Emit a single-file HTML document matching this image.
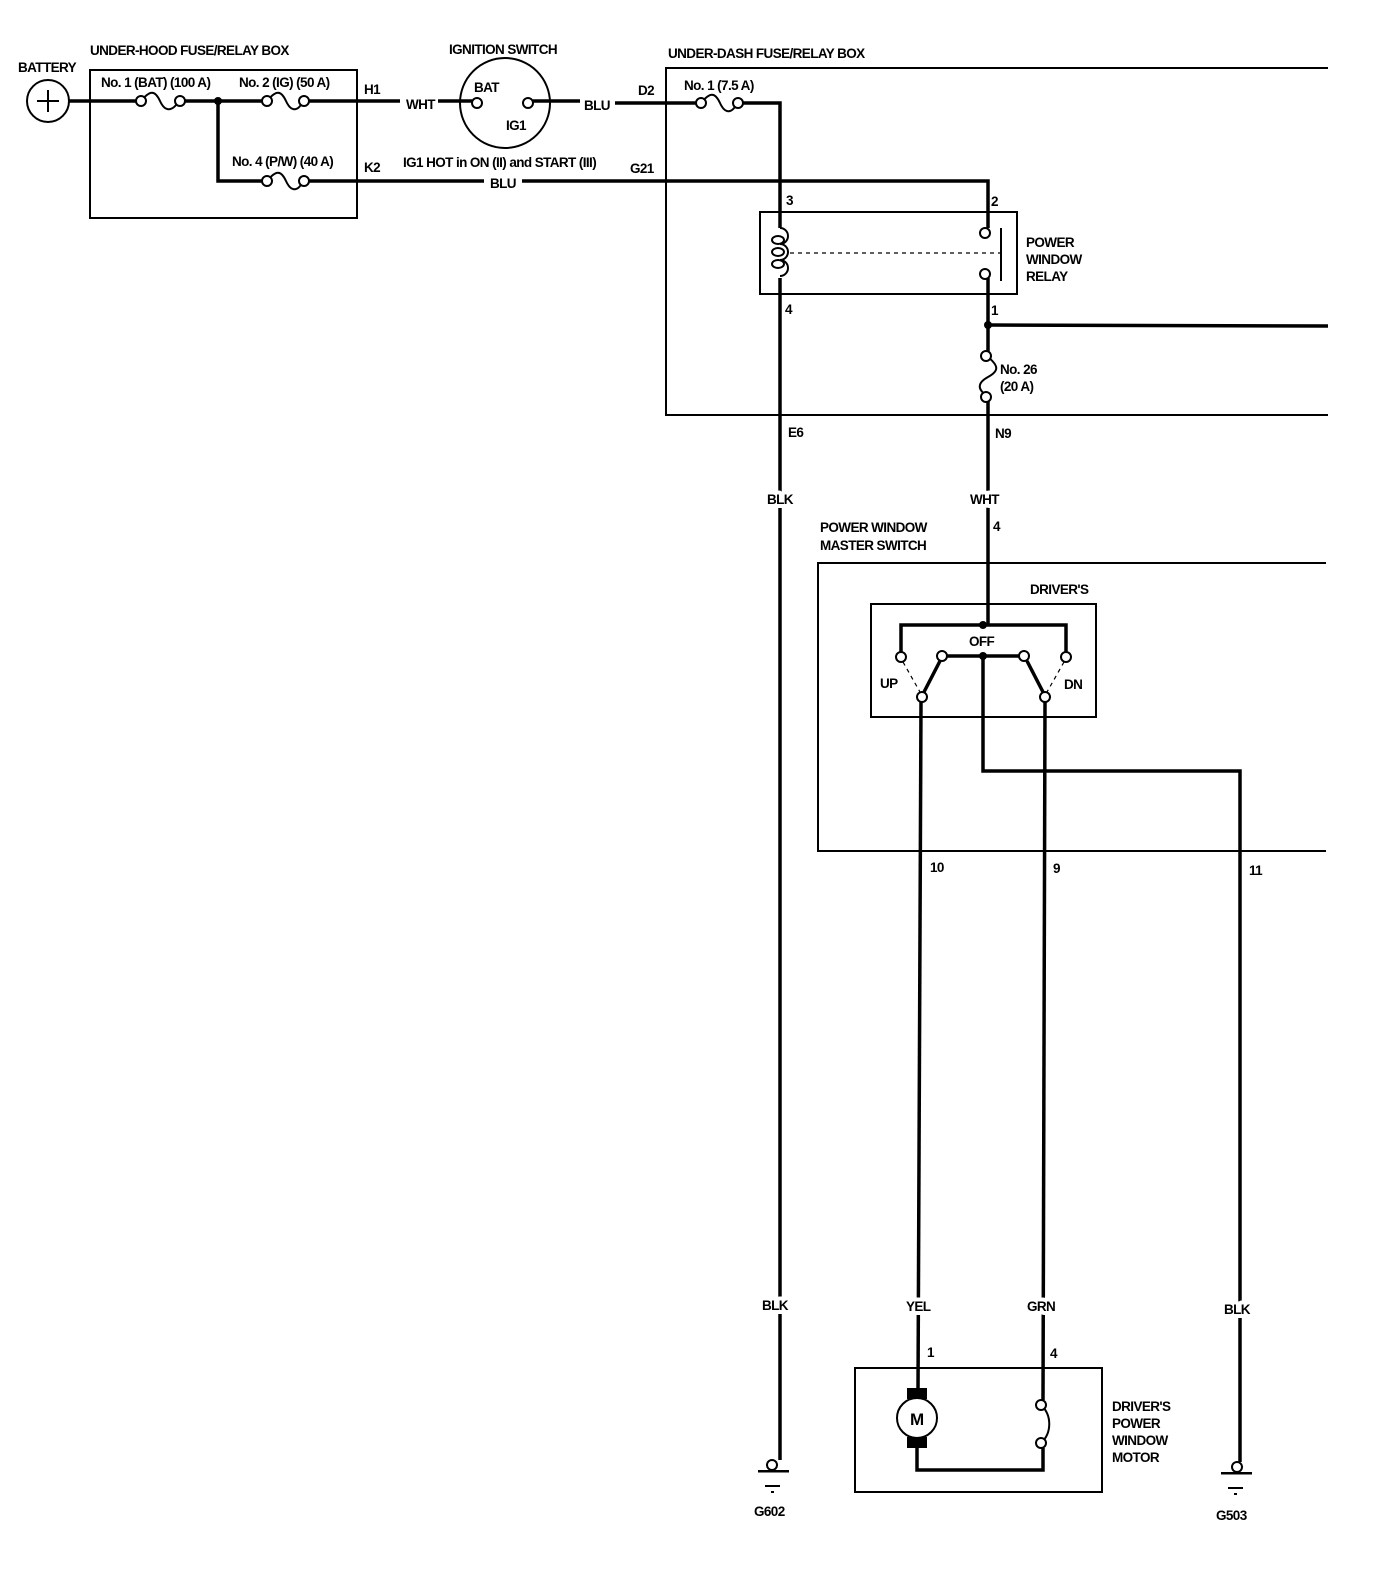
<!DOCTYPE html>
<html><head><meta charset="utf-8"><style>
html,body{margin:0;padding:0;background:#fff}
svg text{font-family:"Liberation Sans Narrow","Liberation Sans",sans-serif;font-weight:bold;font-size:13.5px;letter-spacing:-0.6px;fill:#000}
svg text.lb{paint-order:stroke;stroke:#fff;stroke-width:8px;stroke-linejoin:round}
</style></head><body>
<svg width="1392" height="1570" viewBox="0 0 1392 1570" xmlns="http://www.w3.org/2000/svg">
<g fill="none" stroke="#000" stroke-width="2">
<rect x="90" y="70" width="267" height="148"/>
<polyline points="1328,68 666,68 666,415 1328,415"/>
<rect x="760" y="212" width="257" height="82"/>
<polyline points="1326,563 818,563 818,851 1326,851"/>
<rect x="871" y="604" width="225" height="113"/>
<rect x="855" y="1368" width="247" height="124"/>
<circle cx="48" cy="101" r="21"/>
<circle cx="505" cy="103" r="45"/>
</g>
<g stroke="#000" stroke-width="2">
<line x1="48" y1="90" x2="48" y2="112"/><line x1="37" y1="101" x2="59" y2="101"/>
</g>
<g fill="none" stroke="#000" stroke-width="3.5">
<line x1="69" y1="101" x2="137" y2="101"/>
<line x1="183" y1="101" x2="263" y2="101"/>
<line x1="307" y1="101" x2="400" y2="101"/>
<line x1="438" y1="101" x2="472" y2="101"/>
<line x1="533" y1="101" x2="580" y2="101"/>
<line x1="615" y1="103" x2="697" y2="103"/>
<polyline points="742,103 780,103 780,228"/>
<polyline points="218,101 218,181 263,181"/>
<line x1="307" y1="181" x2="484" y2="181"/>
<polyline points="522,181 988,181 988,228"/>
<line x1="780" y1="278" x2="780" y2="1460"/>
<line x1="988" y1="278" x2="988" y2="352"/>
<line x1="988" y1="325" x2="1328" y2="326"/>
<line x1="988" y1="400" x2="988" y2="625"/>
<polyline points="901,652 901,625 1066,625 1066,652"/>
<line x1="947" y1="656" x2="1019" y2="656"/>
<polyline points="983,656 983,771 1240,771 1240,1462"/>
<line x1="921" y1="702" x2="918" y2="1390"/>
<line x1="1045" y1="702" x2="1043" y2="1400"/>
<polyline points="917,1448 917,1470 1043,1470 1043,1448"/>
<line x1="924" y1="692" x2="940" y2="661"/>
<line x1="1043" y1="692" x2="1027" y2="661"/>
<line x1="1001" y1="228" x2="1001" y2="281" stroke-width="2"/>
</g>
<g stroke="#000" stroke-width="1.2" stroke-dasharray="4,4" fill="none">
<line x1="790" y1="253" x2="1000" y2="253"/>
<line x1="903" y1="662" x2="920" y2="692"/>
<line x1="1064" y1="662" x2="1047" y2="692"/>
</g>
<g fill="#fff" stroke="#000" stroke-width="2">
<path d="M141,101 C150,90 155,90 160,101 C165,112 172,112 179,101" fill="none"/>
<circle cx="141" cy="101" r="5"/><circle cx="180" cy="101" r="5"/>
<path d="M267,101 C276,90 281,90 286,101 C291,112 298,112 303,101" fill="none"/>
<circle cx="267" cy="101" r="5"/><circle cx="304" cy="101" r="5"/>
<path d="M267,181 C276,170 281,170 286,181 C291,192 298,192 303,181" fill="none"/>
<circle cx="267" cy="181" r="5"/><circle cx="304" cy="181" r="5"/>
<path d="M701,103 C710,92 715,92 720,103 C725,114 732,114 737,103" fill="none"/>
<circle cx="701" cy="103" r="5"/><circle cx="738" cy="103" r="5"/>
<path d="M988,357 C999,366 999,371 988,377 C977,383 977,390 988,396" fill="none"/>
<circle cx="986" cy="356" r="5"/><circle cx="986" cy="397" r="5"/>
<circle cx="477" cy="103" r="5"/><circle cx="528" cy="103" r="5"/>
<circle cx="985" cy="233" r="5"/><circle cx="985" cy="274" r="5"/>
<path d="M780,228 a8,8 0 0 1 0,16 a8,8 0 0 1 0,16 a8,8 0 0 1 0,16" fill="none"/>
<ellipse cx="778" cy="240" rx="6" ry="4"/><ellipse cx="778" cy="252" rx="6" ry="4"/><ellipse cx="778" cy="264" rx="6" ry="4"/>
<circle cx="901" cy="657" r="5"/><circle cx="1066" cy="657" r="5"/>
<circle cx="942" cy="656" r="5"/><circle cx="1024" cy="656" r="5"/>
<circle cx="922" cy="697" r="5"/><circle cx="1045" cy="697" r="5"/>
<circle cx="917" cy="1418" r="20"/>
<path d="M1041,1405 C1052,1415 1052,1433 1041,1443" fill="none"/>
<circle cx="1041" cy="1405" r="5"/><circle cx="1041" cy="1443" r="5"/>
<circle cx="772" cy="1465" r="5"/><circle cx="1237" cy="1467" r="5"/>
</g>
<g fill="#000">
<circle cx="218" cy="101" r="4"/><circle cx="988" cy="325" r="4"/>
<circle cx="983" cy="625" r="4"/><circle cx="983" cy="656" r="4"/>
<rect x="907" y="1388" width="20" height="11"/><rect x="907" y="1437" width="20" height="11"/>
<rect x="758" y="1470" width="31" height="2.5"/><rect x="765" y="1485" width="15" height="2"/><rect x="771" y="1491" width="3" height="2"/>
<rect x="1221" y="1472" width="31" height="2.5"/><rect x="1228" y="1487" width="15" height="2"/><rect x="1234" y="1493" width="3" height="2"/>
</g>
<text x="90" y="55">UNDER-HOOD FUSE/RELAY BOX</text>
<text x="18" y="72">BATTERY</text>
<text x="101" y="87">No. 1 (BAT) (100 A)</text>
<text x="239" y="87">No. 2 (IG) (50 A)</text>
<text x="232" y="166">No. 4 (P/W) (40 A)</text>
<text x="364" y="94">H1</text>
<text x="364" y="172">K2</text>
<text x="406" y="109">WHT</text>
<text x="449" y="54">IGNITION SWITCH</text>
<text x="474" y="92">BAT</text>
<text x="506" y="130">IG1</text>
<text x="584" y="110">BLU</text>
<text x="403" y="167">IG1 HOT in ON (II) and START (III)</text>
<text x="490" y="188">BLU</text>
<text x="668" y="58">UNDER-DASH FUSE/RELAY BOX</text>
<text x="638" y="95">D2</text>
<text x="684" y="90">No. 1 (7.5 A)</text>
<text x="630" y="173">G21</text>
<text x="786" y="205">3</text>
<text x="991" y="206">2</text>
<text x="785" y="314">4</text>
<text x="991" y="315">1</text>
<text x="1026" y="247">POWER</text>
<text x="1026" y="264">WINDOW</text>
<text x="1026" y="281">RELAY</text>
<text x="1000" y="374">No. 26</text>
<text x="1000" y="391">(20 A)</text>
<text x="788" y="437">E6</text>
<text x="995" y="438">N9</text>
<text class="lb" x="767" y="504">BLK</text>
<text class="lb" x="970" y="504">WHT</text>
<text x="993" y="531">4</text>
<text x="820" y="532">POWER WINDOW</text>
<text x="820" y="550">MASTER SWITCH</text>
<text x="1030" y="594">DRIVER'S</text>
<text x="969" y="646">OFF</text>
<text x="880" y="688">UP</text>
<text x="1064" y="689">DN</text>
<text x="930" y="872">10</text>
<text x="1053" y="873">9</text>
<text x="1249" y="875">11</text>
<text class="lb" x="762" y="1310">BLK</text>
<text class="lb" x="906" y="1311">YEL</text>
<text class="lb" x="1027" y="1311">GRN</text>
<text class="lb" x="1224" y="1314">BLK</text>
<text x="927" y="1357">1</text>
<text x="1050" y="1358">4</text>
<text x="910" y="1425" style="font-size:17px">M</text>
<text x="1112" y="1411">DRIVER'S</text>
<text x="1112" y="1428">POWER</text>
<text x="1112" y="1445">WINDOW</text>
<text x="1112" y="1462">MOTOR</text>
<text x="754" y="1516">G602</text>
<text x="1216" y="1520">G503</text>
</svg>
</body></html>
